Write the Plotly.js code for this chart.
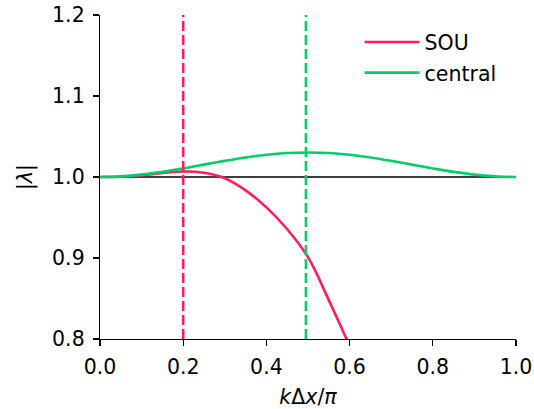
<!DOCTYPE html>
<html>
<head>
<meta charset="utf-8">
<script src="https://cdn.plot.ly/plotly-3.0.1.min.js"></script>
<style>
  html, body { margin: 0; padding: 0; background: #fff; }
  #chart { width: 534px; height: 409px; }
</style>
</head>
<body>
<div id="chart"></div>
<script>
// Amplification factor |λ| versus normalised wavenumber kΔx/π
const souK = [0, 0.05, 0.1, 0.15, 0.2, 0.25, 0.3, 0.35, 0.4, 0.45, 0.5, 0.55, 0.6];
const souAmp = [1.0, 1.0004, 1.0023, 1.0049, 1.0068, 1.0052, 0.9985, 0.9835, 0.9625, 0.9355, 0.9010, 0.8480, 0.7915];

const centralK = [0, 0.05, 0.1, 0.15, 0.2, 0.25, 0.3, 0.35, 0.4, 0.45, 0.5,
                  0.55, 0.6, 0.65, 0.7, 0.75, 0.8, 0.85, 0.9, 0.95, 1.0];
const centralAmp = [1.0, 1.0008, 1.0029, 1.0063, 1.0106, 1.0153, 1.0199, 1.0241, 1.0274, 1.0296, 1.0303,
                    1.0296, 1.0274, 1.0241, 1.0199, 1.0153, 1.0106, 1.0063, 1.0029, 1.0008, 1.0];

// Positions of the vertical reference lines
const souMarkK = [0.2, 0.2];
const centralMarkK = [0.495, 0.495];
const markSpan = [0.8, 1.2];

// Unit reference level
const unitK = [0, 1];
const unitAmp = [1, 1];

const red = '#ff1f5b';
const green = '#00cd6c';
const font = 'DejaVu Sans, sans-serif';
const fs = 20.5;

const traces = [
  { x: unitK, y: unitAmp, mode: 'lines', line: { color: '#000', width: 1.4 },
    showlegend: false, hoverinfo: 'skip' },
  { x: souK, y: souAmp, mode: 'lines', name: 'SOU', legendgroup: 'a',
    line: { color: red, width: 2.6, shape: 'spline' } },
  { x: centralK, y: centralAmp, mode: 'lines', name: 'central', legendgroup: 'b',
    line: { color: green, width: 2.6, shape: 'spline' } },
  { x: souMarkK, y: markSpan, mode: 'lines', showlegend: false,
    line: { color: red, width: 2.6, dash: '10px,4px' } },
  { x: centralMarkK, y: markSpan, mode: 'lines', showlegend: false,
    line: { color: green, width: 2.6, dash: '10px,4px' } }
];

const axisCommon = {
  showgrid: false, zeroline: false, showline: true, linecolor: '#000', linewidth: 1.2,
  ticks: 'outside', ticklen: 6, tickwidth: 1.2, tickcolor: '#000',
  tickfont: { family: font, size: fs, color: '#000' }, mirror: false
};

const layout = {
  width: 534, height: 409,
  margin: { l: 100, r: 18, t: 15, b: 70 },
  paper_bgcolor: '#fff', plot_bgcolor: '#fff',
  xaxis: Object.assign({}, axisCommon, {
    range: [0, 1], tickvals: [0, 0.2, 0.4, 0.6, 0.8, 1.0], tickformat: '.1f',
    ticklabelstandoff: 3,
    title: { text: '<i>k</i>Δ<i>x</i>/<i>π</i>', font: { family: font, size: fs, color: '#000' }, standoff: 12 }
  }),
  yaxis: Object.assign({}, axisCommon, {
    range: [0.8, 1.2], tickvals: [0.8, 0.9, 1.0, 1.1, 1.2], tickformat: '.1f',
    ticklabelstandoff: 4,
    title: { text: '|<i>λ</i>|', font: { family: font, size: fs, color: '#000' }, standoff: 14 }
  }),
  legend: {
    x: 0.624, y: 0.978, xanchor: 'left', yanchor: 'top',
    bgcolor: 'rgba(0,0,0,0)', borderwidth: 0,
    font: { family: font, size: fs, color: '#000' },
    itemwidth: 55,
    tracegroupgap: 1
  },
  showlegend: true
};

Plotly.newPlot('chart', traces, layout, { displayModeBar: false, staticPlot: true });
</script>
</body>
</html>
